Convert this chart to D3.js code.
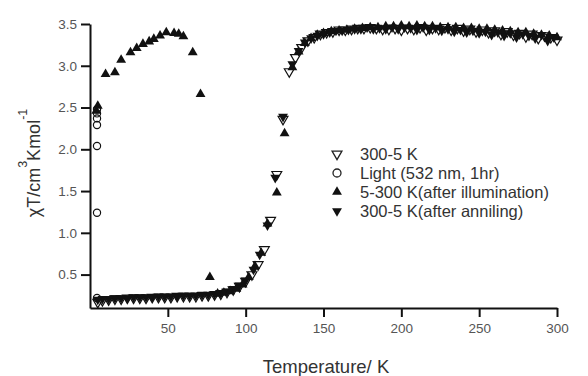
<!DOCTYPE html>
<html>
<head>
<meta charset="utf-8">
<script src="https://cdn.jsdelivr.net/npm/d3@7"></script>
<style>
  body { margin: 0; background: #fff; }
  svg { font-family: "Liberation Sans", Arial, sans-serif; }
</style>
</head>
<body>
<div class="chart"></div>
<script>
// chi*T data
var coolTemp = [300,296,292,288,284,280,276,272,268,264,260,256,252,248,244,240,236,232,228,224,220,216,212,208,204,200,196,192,188,184,180,176,172,168,164,160,156,152,148,144,140,136,132,128,124,120,116,112,108,104,100,96,92,88,84,80,76,72,68,64,60,56,52,48,44,40,36,32,28,24,20,16,12,8,5];
var coolChi = [3.31,3.34,3.36,3.33,3.38,3.35,3.39,3.37,3.41,3.38,3.42,3.40,3.43,3.41,3.44,3.42,3.45,3.43,3.46,3.44,3.45,3.43,3.46,3.44,3.45,3.43,3.45,3.44,3.44,3.45,3.46,3.45,3.45,3.44,3.43,3.43,3.41,3.40,3.38,3.34,3.30,3.22,3.10,
  2.93,2.36,1.70,1.15,0.80,0.62,0.50,0.42,0.36,0.32,0.29,0.27,0.26,0.25,0.25,0.24,0.24,0.24,0.24,0.23,0.23,0.23,0.23,0.22,0.22,0.22,0.22,0.21,0.21,0.20,0.19,0.17];

var lightTemp = [4.5,4.5,4.5,4.5,4.5,4.5,4.5];
var lightChi = [0.22,1.24,2.04,2.29,2.37,2.43,2.48];

var warmTemp = [4,5,10,16,20,26,30,34,38,41,45,49,54,57,60,66,71,77,82,86,90,94,98,102,106,110,114,120,125,130,134,138,142,146,150,
  155,160,165,170,175,180,185,190,195,200,205,210,215,220,225,230,235,240,245,250,255,260,265,270,275,280,285,290,295,300];
var warmChi = [2.46,2.52,2.90,2.92,3.07,3.16,3.21,3.26,3.29,3.32,3.36,3.40,3.39,3.38,3.35,3.16,2.66,0.47,0.27,0.28,0.30,0.33,0.38,0.47,0.60,0.76,1.11,1.48,2.19,2.98,3.17,3.27,3.33,3.37,3.39,
  3.41,3.42,3.43,3.44,3.45,3.46,3.46,3.47,3.47,3.48,3.47,3.48,3.47,3.47,3.46,3.46,3.46,3.45,3.45,3.44,3.44,3.43,3.42,3.41,3.40,3.40,3.38,3.37,3.36,3.34];

var annealTemp = [298,294,290,286,282,278,274,270,266,262,258,254,250,246,242,238,234,230,226,222,218,214,210,206,202,198,194,190,186,182,178,174,170,166,162,158,154,150,146,142,138,134,130,
  124,119,114,109,105,100,96,92,88,84,80,76,72,68,64,60,56,52,48,44,40,36,32,28,24,20,16,12,8,5];
var annealChi = [3.34,3.30,3.37,3.33,3.36,3.38,3.34,3.39,3.36,3.40,3.37,3.41,3.39,3.42,3.40,3.43,3.41,3.44,3.42,3.45,3.43,3.46,3.43,3.45,3.46,3.44,3.46,3.44,3.45,3.44,3.46,3.44,3.44,3.43,3.42,3.42,3.40,3.38,3.36,3.33,3.28,3.18,3.02,
  2.39,1.66,1.09,0.74,0.56,0.43,0.37,0.33,0.30,0.28,0.27,0.26,0.26,0.25,0.25,0.25,0.24,0.24,0.24,0.24,0.23,0.23,0.23,0.23,0.22,0.22,0.22,0.21,0.21,0.20];

var xTicks = [50,100,150,200,250,300];
var yTicks = [0.5,1.0,1.5,2.0,2.5,3.0,3.5];
var legendLabels = ["300-5 K", "Light (532 nm, 1hr)", "5-300 K(after illumination)", "300-5 K(after anniling)"];

var svgWidth = 588;
var svgHeight = 376;

var svg = d3.select(".chart")
  .append("svg")
  .attr("width", svgWidth)
  .attr("height", svgHeight);

var xScale = d3.scaleLinear().domain([0, 300]).range([90, 557]);
var yScale = d3.scaleLinear().domain([0.1, 3.5]).range([308, 24]);

// axes
var xAxis = svg.append("g")
  .attr("transform", "translate(0, 308)")
  .call(d3.axisBottom(xScale).tickValues(xTicks).tickSize(9).tickSizeOuter(0).tickPadding(6));
var yAxis = svg.append("g")
  .attr("transform", "translate(90, 0)")
  .call(d3.axisLeft(yScale).tickValues(yTicks).tickFormat(d3.format(".1f")).tickSize(9).tickSizeOuter(0).tickPadding(4));

svg.selectAll(".domain").attr("stroke", "#111").attr("stroke-width", 2);
svg.selectAll(".tick line").attr("stroke", "#111").attr("stroke-width", 2);
svg.selectAll(".tick text")
  .attr("fill", "#555")
  .style("font-size", "13.5px")
  .style("font-family", "'Liberation Sans', Arial, sans-serif");

// symbols
var triSym = d3.symbol().type(d3.symbolTriangle).size(42);
var circR = 3.6;

function zip(t, v) {
  return t.map(function(d, i) { return {t: d, v: v[i]}; });
}

// 300-5 K open down triangles
svg.append("g").selectAll("path")
  .data(zip(coolTemp, coolChi))
  .enter()
  .append("path")
  .attr("d", triSym)
  .attr("transform", d => `translate(${xScale(d.t)}, ${yScale(d.v)}) rotate(180)`)
  .attr("fill", "none")
  .attr("stroke", "#111")
  .attr("stroke-width", 1.2);

// 300-5 K after annealing, filled down triangles
svg.append("g").selectAll("path")
  .data(zip(annealTemp, annealChi))
  .enter()
  .append("path")
  .attr("d", triSym)
  .attr("transform", d => `translate(${xScale(d.t)}, ${yScale(d.v)}) rotate(180)`)
  .attr("fill", "#111");

// 5-300 K after illumination, filled up triangles
svg.append("g").selectAll("path")
  .data(zip(warmTemp, warmChi))
  .enter()
  .append("path")
  .attr("d", triSym)
  .attr("transform", d => `translate(${xScale(d.t)}, ${yScale(d.v)})`)
  .attr("fill", "#111");

// light, open circles
svg.append("g").selectAll("circle")
  .data(zip(lightTemp, lightChi))
  .enter()
  .append("circle")
  .attr("cx", d => xScale(d.t))
  .attr("cy", d => yScale(d.v))
  .attr("r", circR)
  .attr("fill", "none")
  .attr("stroke", "#111")
  .attr("stroke-width", 1.2);

// legend
var legend = svg.append("g").attr("transform", "translate(337, 154)");
var rowGap = 19;
legendLabels.forEach(function(lab, i) {
  var row = legend.append("g").attr("transform", `translate(0, ${i * rowGap})`);
  if (i == 0) {
    row.append("path").attr("d", triSym).attr("transform", "rotate(180)")
      .attr("fill", "none").attr("stroke", "#222").attr("stroke-width", 1.3);
  } else if (i == 1) {
    row.append("circle").attr("r", 4).attr("fill", "none").attr("stroke", "#222").attr("stroke-width", 1.3);
  } else if (i == 2) {
    row.append("path").attr("d", triSym).attr("fill", "#111");
  } else {
    row.append("path").attr("d", triSym).attr("transform", "rotate(180)").attr("fill", "#111");
  }
  row.append("text")
    .attr("x", 23)
    .attr("y", 6)
    .attr("fill", "#333")
    .style("font-size", "16.5px")
    .text(lab);
});

// axis titles
svg.append("text")
  .attr("x", 326)
  .attr("y", 373)
  .attr("text-anchor", "middle")
  .attr("fill", "#333")
  .style("font-size", "18.5px")
  .text("Temperature/ K");

var yTitle = svg.append("text")
  .attr("transform", "translate(40, 163) rotate(-90)")
  .attr("text-anchor", "middle")
  .attr("fill", "#333")
  .style("font-size", "18px");
yTitle.append("tspan").text("\u03C7T/cm");
yTitle.append("tspan").attr("dy", -13).style("font-size", "12.5px").text("3");
yTitle.append("tspan").attr("dy", 13).text("Kmol");
yTitle.append("tspan").attr("dy", -13).style("font-size", "12.5px").text("-1");
</script>
</body>
</html>
